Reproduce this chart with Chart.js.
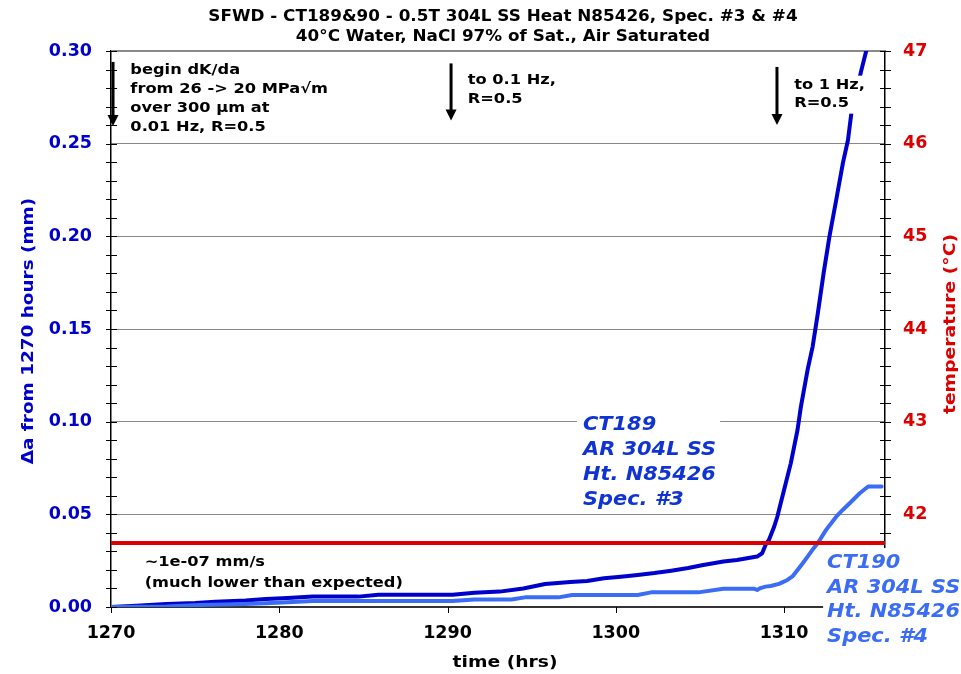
<!DOCTYPE html>
<html>
<head>
<meta charset="utf-8">
<script src="https://cdn.jsdelivr.net/npm/chart.js@4.4.1/dist/chart.umd.min.js"></script>
<style>
  html, body { margin: 0; padding: 0; background: #fff; }
  canvas { display: block; }
</style>
</head>
<body>
<canvas id="chart" width="961" height="674"></canvas>
<script>
// Crack extension since 1270 h, CT189 (Spec. #3)
const ct189Hours = [1270, 1271.5, 1273.3, 1275, 1276.2, 1278, 1279.2, 1280.5, 1282, 1284.7, 1285.9, 1288, 1290.3, 1291.6, 1293.1, 1294.5, 1295.8, 1297.3, 1298.3, 1299.3, 1300.3, 1301.3, 1302.3, 1303.3, 1304.3, 1305.2, 1306.4, 1307.2, 1307.8, 1308.4, 1308.7, 1308.9, 1309.1, 1309.4, 1309.6, 1310.0, 1310.4, 1310.8, 1311.0, 1311.4, 1311.7, 1312.0, 1312.35, 1312.7, 1313.1, 1313.5, 1313.8, 1314.0, 1314.3, 1314.6, 1314.9, 1315.1];
const ct189Growth = [0, 0.0007, 0.0016, 0.0022, 0.0029, 0.0035, 0.0043, 0.0049, 0.0056, 0.0056, 0.0066, 0.0066, 0.0066, 0.0077, 0.0083, 0.0100, 0.0124, 0.0135, 0.0140, 0.0155, 0.0163, 0.0173, 0.0183, 0.0196, 0.0210, 0.0227, 0.0245, 0.0254, 0.0263, 0.0272, 0.0290, 0.0335, 0.0362, 0.0430, 0.0487, 0.0631, 0.0775, 0.0955, 0.1080, 0.1280, 0.1405, 0.1580, 0.1800, 0.2000, 0.2196, 0.2396, 0.2520, 0.2664, 0.2780, 0.2898, 0.3006, 0.3100];

// Crack extension since 1270 h, CT190 (Spec. #4)
const ct190Hours = [1270, 1273.3, 1275.3, 1277.5, 1279.2, 1280.5, 1282, 1286, 1290.3, 1291.6, 1293.8, 1294.6, 1296.6, 1297.4, 1301.3, 1302.1, 1304.9, 1306.4, 1308.2, 1308.4, 1308.6, 1308.9, 1309.2, 1309.7, 1310.2, 1310.5, 1310.8, 1311.1, 1311.4, 1311.7, 1312.0, 1312.5, 1313.1, 1313.5, 1313.9, 1314.5, 1315.0, 1315.8];
const ct190Growth = [0, 0.0003, 0.0011, 0.0015, 0.0020, 0.0025, 0.0032, 0.0032, 0.0032, 0.0041, 0.0041, 0.0052, 0.0052, 0.0065, 0.0065, 0.0079, 0.0079, 0.0099, 0.0099, 0.0092, 0.0102, 0.0110, 0.0113, 0.0125, 0.0146, 0.0165, 0.0200, 0.0235, 0.0272, 0.0310, 0.0344, 0.0416, 0.0487, 0.0525, 0.0560, 0.0614, 0.0650, 0.0650];

// Water temperature (°C)
const tempHours = [1270, 1316];
const tempValues = [41.69, 41.69];

// Axis ticks
const hourTicks = [1270, 1280, 1290, 1300, 1310];
const growthTicks = [0, 0.05, 0.10, 0.15, 0.20, 0.25, 0.30];
const tempTicks = [41, 42, 43, 44, 45, 46, 47];

// Text
const titleLines = ['SFWD - CT189&90 - 0.5T 304L SS Heat N85426, Spec. #3 & #4', '40°C Water, NaCl 97% of Sat., Air Saturated'];
const growthAxisTitle = 'Δa from 1270 hours (mm)';
const tempAxisTitle = 'temperature (°C)';
const hourAxisTitle = 'time (hrs)';
const noteStart = ['begin dK/da', 'from 26 -> 20 MPa√m', 'over 300 µm at', '0.01 Hz, R=0.5'];
const noteMid = ['to 0.1 Hz,', 'R=0.5'];
const noteEnd = ['to 1 Hz,', 'R=0.5'];
const noteRate = ['~1e-07 mm/s', '(much lower than expected)'];
const labelCT189 = ['CT189', 'AR 304L SS', 'Ht. N85426', 'Spec. #3'];
const labelCT190 = ['CT190', 'AR 304L SS', 'Ht. N85426', 'Spec. #4'];

const FONT = '"DejaVu Sans", Verdana, sans-serif';
const DARK_BLUE = '#0000cc';
const LIGHT_BLUE = '#3a6cf4';
const RED = '#dd0000';

function toPoints(xs, ys) { return xs.map((x, i) => ({ x: x, y: ys[i] })); }

// Text with a slight horizontal stretch
function wideText(ctx, str, x, y, sx, align, rotate) {
  ctx.save();
  ctx.translate(x, y);
  if (rotate) ctx.rotate(rotate);
  ctx.scale(sx, 1);
  ctx.textAlign = align;
  ctx.fillText(str, 0, 0);
  ctx.restore();
}

// Multi-line note anchored at (hour, mm) with optional white backing
function noteBlock(chart, lines, hour, mm, o) {
  const ctx = chart.ctx;
  const x = chart.scales.x.getPixelForValue(hour);
  const y0 = chart.scales.y.getPixelForValue(mm);
  ctx.save();
  ctx.font = (o.italic ? 'italic ' : '') + 'bold ' + o.size + 'px ' + FONT;
  ctx.textBaseline = 'middle';
  const w = Math.max.apply(null, lines.map(l => ctx.measureText(l).width)) * o.sx;
  if (o.bg) {
    const top = y0 - o.above;
    const bottom = y0 + (lines.length - 1) * o.lh + o.below;
    ctx.fillStyle = '#ffffff';
    ctx.fillRect(x - o.padL, top, w + o.padL + o.padR, bottom - top);
  }
  ctx.fillStyle = o.color;
  lines.forEach((l, i) => wideText(ctx, l, x, y0 + i * o.lh, o.sx, 'left'));
  ctx.restore();
}

function downArrow(chart, hour, fromMm, toMm) {
  const ctx = chart.ctx;
  const x = chart.scales.x.getPixelForValue(hour);
  const y1 = chart.scales.y.getPixelForValue(fromMm);
  const y2 = chart.scales.y.getPixelForValue(toMm);
  ctx.save();
  ctx.strokeStyle = '#000';
  ctx.fillStyle = '#000';
  ctx.lineWidth = 3;
  ctx.beginPath();
  ctx.moveTo(x, y1);
  ctx.lineTo(x, y2 - 9);
  ctx.stroke();
  ctx.beginPath();
  ctx.moveTo(x - 5.5, y2 - 11);
  ctx.lineTo(x + 5.5, y2 - 11);
  ctx.lineTo(x, y2);
  ctx.closePath();
  ctx.fill();
  ctx.restore();
}

const decorations = {
  id: 'decorations',
  beforeDatasetsDraw(chart) {
    const ctx = chart.ctx;
    const area = chart.chartArea;
    const ya = chart.scales.y, ta = chart.scales.temp, xa = chart.scales.x;
    ctx.save();
    // top frame line
    ctx.strokeStyle = '#8a8a8a';
    ctx.lineWidth = 2;
    ctx.beginPath();
    ctx.moveTo(area.left, area.top);
    ctx.lineTo(area.right, area.top);
    ctx.stroke();
    // tick marks crossing the value axes
    ctx.strokeStyle = '#000';
    ctx.lineWidth = 1;
    ctx.beginPath();
    for (let i = 0; i <= 30; i++) {
      const y = Math.round(ya.getPixelForValue(i / 100)) + 0.5;
      ctx.moveTo(area.left - 5, y);
      ctx.lineTo(area.left + 6, y);
    }
    for (let i = 0; i <= 30; i++) {
      const y = Math.round(ta.getPixelForValue(41 + i * 0.2)) + 0.5;
      ctx.moveTo(area.right - 5, y);
      ctx.lineTo(area.right + 6, y);
    }
    hourTicks.forEach(h => {
      const x = Math.round(xa.getPixelForValue(h)) + 0.5;
      ctx.moveTo(x, area.bottom);
      ctx.lineTo(x, area.bottom + 6);
    });
    ctx.stroke();
    ctx.restore();
  },
  afterDatasetsDraw(chart) {
    const ctx = chart.ctx;
    const area = chart.chartArea;

    // load-condition notes and arrows
    const plain = { size: 14.5, sx: 1.12, color: '#000', bg: true, padL: 3, padR: 3, above: 10, below: 10 };
    noteBlock(chart, noteStart, 1271.15, 0.2895, Object.assign({}, plain, { lh: 19 }));
    noteBlock(chart, noteMid, 1291.2, 0.2844, Object.assign({}, plain, { lh: 19 }));
    noteBlock(chart, noteEnd, 1310.6, 0.2813, Object.assign({}, plain, { lh: 18 }));
    noteBlock(chart, noteRate, 1272.0, 0.0243, Object.assign({}, plain, { lh: 21, above: 9, below: 9 }));
    downArrow(chart, 1270.12, 0.2941, 0.2595);
    downArrow(chart, 1290.21, 0.2933, 0.2625);
    downArrow(chart, 1309.58, 0.2914, 0.2601);

    // specimen labels
    noteBlock(chart, labelCT189, 1298.05, 0.0982,
      { size: 19, sx: 1.1, italic: true, color: '#1034d2', bg: true, lh: 25, padL: 6, padR: 4, above: 15, below: 10 });
    noteBlock(chart, labelCT190, 1312.56, 0.0237,
      { size: 19, sx: 1.1, italic: true, color: LIGHT_BLUE, bg: true, lh: 24.7, padL: 4, padR: 6, above: 15, below: 14 });

    // title
    ctx.save();
    ctx.fillStyle = '#000';
    ctx.textBaseline = 'middle';
    ctx.font = 'bold 15px ' + FONT;
    const cx = (area.left + area.right) / 2 + 5;
    wideText(ctx, titleLines[0], cx, 17, 1.12, 'center');
    wideText(ctx, titleLines[1], cx, 37, 1.12, 'center');

    // axis titles
    ctx.font = 'bold 16px ' + FONT;
    ctx.fillStyle = DARK_BLUE;
    wideText(ctx, growthAxisTitle, 29, (area.top + area.bottom) / 2 + 2, 1.15, 'center', -Math.PI / 2);
    ctx.fillStyle = RED;
    wideText(ctx, tempAxisTitle, 951, (area.top + area.bottom) / 2 - 5, 1.17, 'center', -Math.PI / 2);
    ctx.fillStyle = '#000';
    wideText(ctx, hourAxisTitle, (area.left + area.right) / 2 + 7, 663, 1.17, 'center');
    ctx.restore();
  }
};

const tickFont = { family: FONT, size: 17.5, weight: 'bold' };

new Chart(document.getElementById('chart'), {
  type: 'line',
  data: {
    datasets: [
      { label: 'temperature', data: toPoints(tempHours, tempValues), yAxisID: 'temp',
        borderColor: RED, borderWidth: 4, pointRadius: 0, order: 0 },
      { label: 'CT190', data: toPoints(ct190Hours, ct190Growth), yAxisID: 'y',
        borderColor: LIGHT_BLUE, borderWidth: 4, pointRadius: 0, order: 1 },
      { label: 'CT189', data: toPoints(ct189Hours, ct189Growth), yAxisID: 'y',
        borderColor: DARK_BLUE, borderWidth: 4, pointRadius: 0, order: 2 }
    ]
  },
  options: {
    responsive: false,
    animation: false,
    devicePixelRatio: 1,
    events: [],
    layout: { padding: { top: 51, left: 0, right: 0, bottom: 0 } },
    elements: { line: { tension: 0, borderJoinStyle: 'round', borderCapStyle: 'round' } },
    plugins: { legend: { display: false }, title: { display: false }, tooltip: { enabled: false } },
    scales: {
      x: {
        type: 'linear', min: 1270, max: 1316,
        afterBuildTicks: s => { s.ticks = hourTicks.map(v => ({ value: v })); },
        afterFit: s => { s.height = 67; },
        grid: { display: false, drawTicks: false },
        border: { display: true, color: '#333', width: 2 },
        ticks: { padding: 16, color: '#000', font: tickFont, maxRotation: 0, autoSkip: false,
                 callback: v => String(v) }
      },
      y: {
        type: 'linear', position: 'left', min: 0, max: 0.30,
        afterBuildTicks: s => { s.ticks = growthTicks.map(v => ({ value: v })); },
        afterFit: s => { s.width = 111; },
        grid: {
          drawTicks: false, lineWidth: 1,
          color: c => (c.tick && (c.tick.value === 0 || Math.abs(c.tick.value - 0.3) < 1e-9)) ? 'rgba(0,0,0,0)' : '#111'
        },
        border: { display: true, color: '#000', width: 1.5, dash: [1, 1] },
        ticks: { padding: 19, color: DARK_BLUE, font: tickFont, callback: v => Number(v).toFixed(2) }
      },
      temp: {
        type: 'linear', position: 'right', min: 41, max: 47,
        afterBuildTicks: s => { s.ticks = tempTicks.map(v => ({ value: v })); },
        afterFit: s => { s.width = 76; },
        grid: { display: false, drawTicks: false },
        border: { display: true, color: '#000', width: 1.5 },
        ticks: { padding: 18, color: RED, font: tickFont, callback: v => String(v) }
      }
    }
  },
  plugins: [decorations]
});
</script>
</body>
</html>
